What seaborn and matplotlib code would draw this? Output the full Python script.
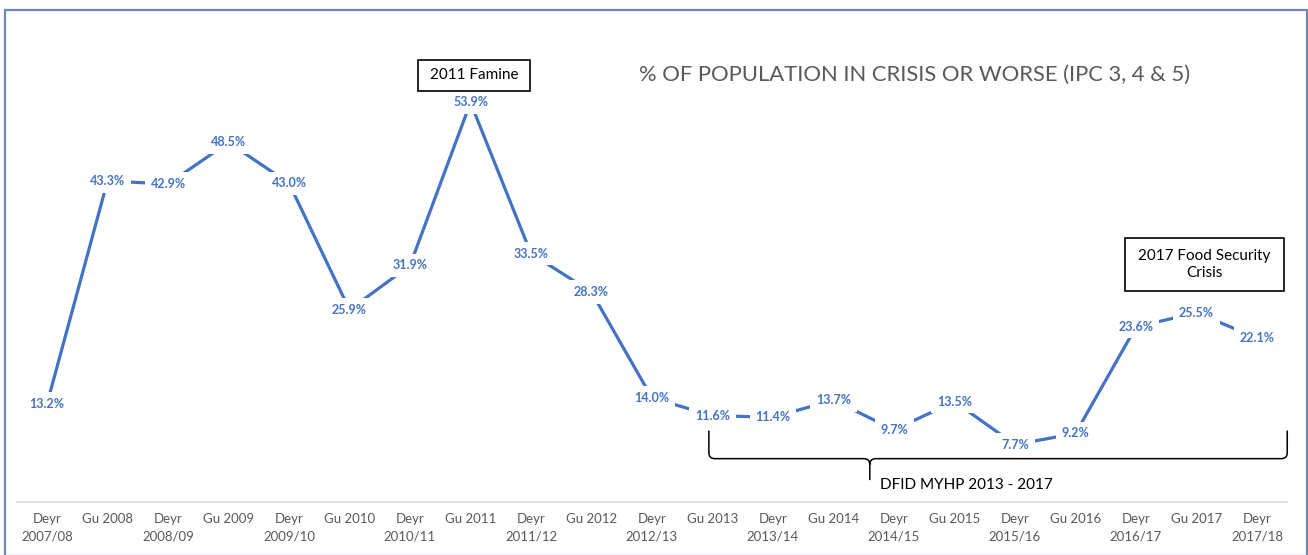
import matplotlib
matplotlib.use("Agg")
import matplotlib.pyplot as plt
from matplotlib.patches import Rectangle, PathPatch
from matplotlib.path import Path
import numpy as np
import pandas as pd
import seaborn as sns

# Seasonal assessments (Deyr = short rains, Gu = long rains)
seasons = [
    "Deyr\n2007/08", "Gu 2008", "Deyr\n2008/09", "Gu 2009", "Deyr\n2009/10",
    "Gu 2010", "Deyr\n2010/11", "Gu 2011", "Deyr\n2011/12", "Gu 2012",
    "Deyr\n2012/13", "Gu 2013", "Deyr\n2013/14", "Gu 2014", "Deyr\n2014/15",
    "Gu 2015", "Deyr\n2015/16", "Gu 2016", "Deyr\n2016/17", "Gu 2017",
    "Deyr\n2017/18",
]
pct_crisis = [13.2, 43.3, 42.9, 48.5, 43.0, 25.9, 31.9, 53.9, 33.5, 28.3,
              14.0, 11.6, 11.4, 13.7, 9.7, 13.5, 7.7, 9.2, 23.6, 25.5, 22.1]

title = "% OF POPULATION IN CRISIS OR WORSE (IPC 3, 4 & 5)"
famine_note = "2011 Famine"
crisis_note = "2017 Food Security\nCrisis"
programme_note = "DFID MYHP 2013 - 2017"

df = pd.DataFrame({"pos": np.arange(len(seasons)), "pct": pct_crisis})

sns.set_style("white")
plt.rcParams["font.family"] = ["Lato", "DejaVu Sans"]

W, H = 1308, 555
fig = plt.figure(figsize=(W / 100, H / 100), dpi=100)

def fig_box(x0, y0, x1, y1):
    """Pixel box (top-left origin) -> figure fraction [l, b, w, h]."""
    return [x0 / W, 1 - y1 / H, (x1 - x0) / W, (y1 - y0) / H]

ax = fig.add_axes(fig_box(16.75, 20.3, 1287.25, 501.6))

blue = "#4472C4"
sns.lineplot(data=df, x="pos", y="pct", ax=ax, color=blue, linewidth=2.3,
             zorder=2, legend=False)

for x, v in zip(df["pos"], df["pct"]):
    ax.text(x, v, f"{v:.1f}%", ha="center", va="center", fontsize=9,
            fontweight="bold", color=blue, zorder=3,
            bbox=dict(boxstyle="square,pad=0.45", fc="white", ec="none"))

ax.set_xlim(-0.5, 20.5)
ax.set_ylim(0, 65)
ax.set_xticks(df["pos"])
ax.set_xticklabels(seasons, fontsize=9.5, color="#595959", linespacing=1.6)
ax.set_yticks([])
ax.set_xlabel("")
ax.set_ylabel("")
ax.tick_params(axis="x", length=0, pad=8)
for side in ["top", "left", "right"]:
    ax.spines[side].set_visible(False)
ax.spines["bottom"].set_color("#d9d9d9")
ax.spines["bottom"].set_linewidth(1.2)

# Chart title
fig.text(915 / W, 1 - 75 / H, title, ha="center", va="center",
         fontsize=15.8, color="#595959")

# Annotation boxes
for (x0, y0, x1, y1), txt in [((418, 60, 530, 91), famine_note),
                              ((1125, 238, 1284, 291), crisis_note)]:
    l, b, w, h = fig_box(x0, y0, x1, y1)
    fig.patches.append(Rectangle((l, b), w, h, transform=fig.transFigure,
                                 fill=False, ec="black", lw=1.2, zorder=5))
    fig.text(l + w / 2, b + h / 2, txt, ha="center", va="center",
             fontsize=11, color="black", linespacing=1.3)

# Curly brace marking the programme period
x0, xm, x1 = 10.94, 13.6, 20.5
yt, yb, ytip = 9.6, 5.8, 2.9
rx, ry = 0.1, 0.8
verts = [(x0, yt), (x0, yb + ry), (x0, yb), (x0 + rx, yb),
         (xm - rx, yb), (xm, yb), (xm, yb - ry), (xm, ytip),
         (xm, yb - ry), (xm, yb), (xm + rx, yb),
         (x1 - rx, yb), (x1, yb), (x1, yb + ry), (x1, yt)]
codes = [Path.MOVETO, Path.LINETO, Path.CURVE3, Path.CURVE3,
         Path.LINETO, Path.CURVE3, Path.CURVE3, Path.LINETO,
         Path.MOVETO, Path.CURVE3, Path.CURVE3,
         Path.LINETO, Path.CURVE3, Path.CURVE3, Path.LINETO]
ax.add_patch(PathPatch(Path(verts, codes), fill=False, ec="black", lw=1.1,
                       clip_on=False, zorder=4))
ax.text(13.77, 2.3, programme_note, ha="left", va="center", fontsize=11,
        color="black")

# Outer chart frame
l, b, w, h = fig_box(5.5, 10, 1306.5, 556)
fig.patches.append(Rectangle((l, b), w, h, transform=fig.transFigure,
                             fill=False, ec="#6f88b0", lw=1.6, zorder=0))

fig.savefig("out.png", dpi=100)
